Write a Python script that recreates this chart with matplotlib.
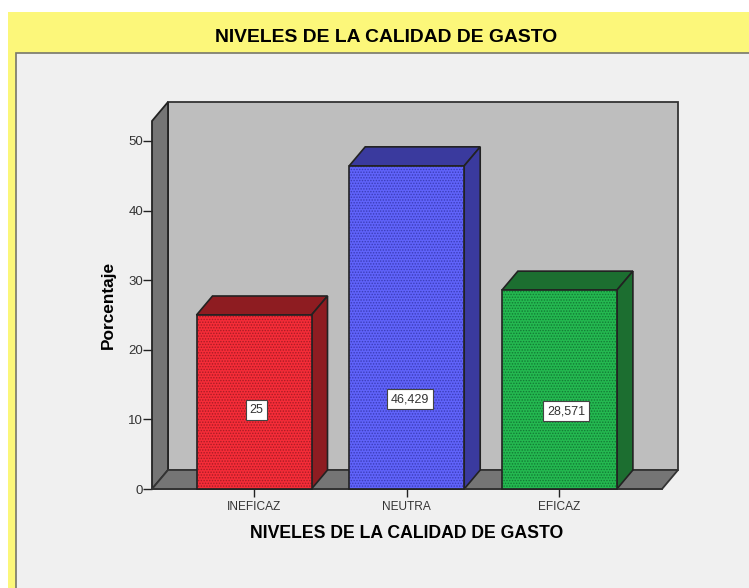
import matplotlib
matplotlib.use("Agg")
import matplotlib.pyplot as plt
from matplotlib.patches import Polygon, Rectangle

plt.rcParams['font.family'] = ['Liberation Sans', 'DejaVu Sans']
plt.rcParams['hatch.linewidth'] = 0.7

categories = ["INEFICAZ", "NEUTRA", "EFICAZ"]
percent = [25, 46.429, 28.571]
y_ticks = [0, 10, 20, 30, 40, 50]
title_text = "NIVELES DE LA CALIDAD DE GASTO"
y_title = "Porcentaje"

front_colors = ["#f52c38", "#6063fa", "#24b850"]
dots = ["#a81c24", "#3a3cb8", "#127a34"]
side_colors = ["#8e1c21", "#3a3a9e", "#1c6e30"]

W, H = 749, 588
fig = plt.figure(figsize=(W / 100, H / 100), dpi=100, facecolor="white")

# background panels, in pixels
bg = fig.add_axes([0, 0, 1, 1])
bg.set_xlim(0, W)
bg.set_ylim(H, 0)
bg.axis("off")
bg.add_patch(Rectangle((8, 12), W - 8, H - 12, fc="#fcf77a", ec="none"))
bg.add_patch(Rectangle((16, 53), W, H, fc="#f0f0f0", ec="#77776a", lw=1.2))
bg.text(386, 37, title_text, ha="center", va="center", fontsize=13.9, fontweight="bold", color="black")

# axes = front plane of the 3d box
left, right, bottom, top = 152, 662, 489, 121
ax = fig.add_axes([left / W, 1 - bottom / H, (right - left) / W, (bottom - top) / H])
ax.patch.set_alpha(0)
px_x = 152.7
px_y = 6.96
ax.set_xlim(-(254 - left) / px_x, (right - 254) / px_x)
ax.set_ylim(0, (bottom - top) / px_y)
xmin, xmax = ax.get_xlim()
ymin, ymax = ax.get_ylim()
dx = 16 / px_x
dy = 19 / px_y
bw = 115 / px_x
edge = "#222222"

# left wall, floor, back wall
ax.add_patch(Polygon([(xmin + dx, ymin + dy), (xmax + dx, ymin + dy), (xmax + dx, ymax + dy), (xmin + dx, ymax + dy)],
                     fc="#bebebe", ec="#333333", lw=1.3, clip_on=False, zorder=1))
ax.add_patch(Polygon([(xmin, ymin), (xmin + dx, ymin + dy), (xmin + dx, ymax + dy), (xmin, ymax)],
                     fc="#757575", ec="#222222", lw=1.3, clip_on=False, zorder=1))
ax.add_patch(Polygon([(xmin, ymin), (xmax, ymin), (xmax + dx, ymin + dy), (xmin + dx, ymin + dy)],
                     fc="#757575", ec="#333333", lw=1.3, clip_on=False, zorder=1))

label_y = [11.35, 12.9, 11.2]
label_dx = [0.015, 0.02, 0.045]
for i, v in enumerate(percent):
    x0 = i - bw / 2
    x1 = i + bw / 2
    # top and side faces
    ax.add_patch(Polygon([(x0, v), (x1, v), (x1 + dx, v + dy), (x0 + dx, v + dy)],
                         fc=side_colors[i], ec=edge, lw=1.2, clip_on=False, zorder=2))
    ax.add_patch(Polygon([(x1, 0), (x1 + dx, dy), (x1 + dx, v + dy), (x1, v)],
                         fc=side_colors[i], ec=edge, lw=1.2, clip_on=False, zorder=2))
    ax.bar(i, v, width=bw, color=front_colors[i], edgecolor=dots[i], hatch="......", lw=0, zorder=3)
    ax.add_patch(Rectangle((x0, 0), bw, v, fc="none", ec=edge, lw=1.2, zorder=4, clip_on=False))
    ax.text(i + label_dx[i], label_y[i], f"{v:g}".replace(".", ","), ha="center", va="center",
            fontsize=9, color="#333333", zorder=5,
            bbox=dict(boxstyle="square,pad=0.3", fc="white", ec="#444444", lw=0.8))

ax.set_xticks(range(len(categories)))
ax.set_xticklabels(categories, fontsize=8.6, color="#333333")
ax.set_yticks(y_ticks)
ax.tick_params(axis="y", labelsize=9.5, labelcolor="#333333", length=6.5, width=1, color="#222222", pad=0)
ax.tick_params(axis="x", length=6, width=1, color="#222222", pad=3)
for s in ax.spines.values():
    s.set_visible(False)
ax.spines["bottom"].set_visible(True)
ax.spines["bottom"].set_color("#333333")
ax.spines["bottom"].set_linewidth(1.3)
ax.set_ylabel(y_title, fontsize=12.4, fontweight="bold", labelpad=0)
ax.yaxis.set_label_coords((116 - left) / (right - left), (bottom - 305) / (bottom - top))
bg.text(406.5, 533, title_text, ha="center", va="center", fontsize=12.7, fontweight="bold", color="black")

fig.savefig("out.png", dpi=100)
